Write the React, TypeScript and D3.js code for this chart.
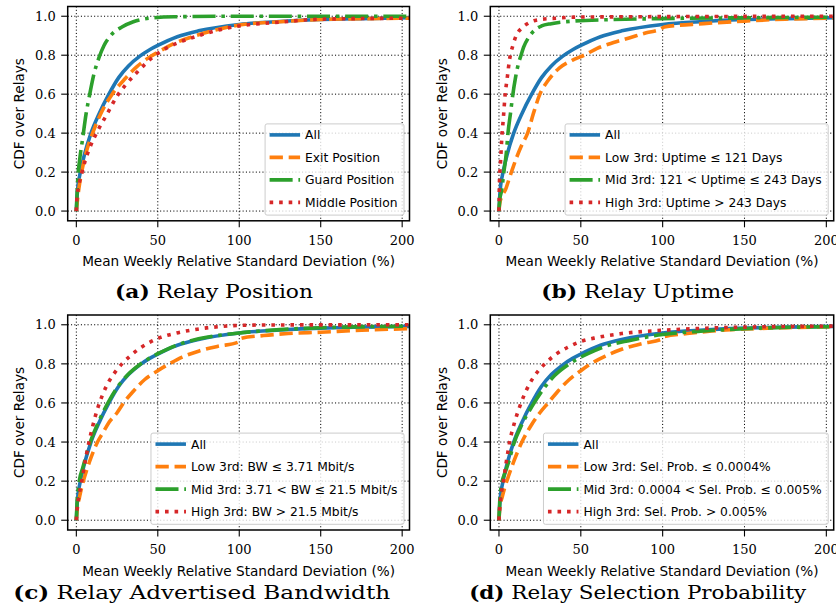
import React from 'react';
import * as d3 from 'd3';

// ---------- axis / text data ----------
const X_TICKS = [0, 50, 100, 150, 200];
const Y_TICKS = [0, 0.2, 0.4, 0.6, 0.8, 1.0];
const X_DOMAIN: [number, number] = [-5.3, 204.5];
const Y_DOMAIN: [number, number] = [-0.05, 1.05];
const X_LABEL = 'Mean Weekly Relative Standard Deviation (%)';
const Y_LABEL = 'CDF over Relays';

const CAPTION_TAGS = ['(a)', '(b)', '(c)', '(d)'];
const CAPTION_TEXTS = ['Relay Position', 'Relay Uptime', 'Relay Advertised Bandwidth', 'Relay Selection Probability'];

const LEGEND_A = ['All', 'Exit Position', 'Guard Position', 'Middle Position'];
const LEGEND_B = ['All', 'Low 3rd: Uptime \u2264 121 Days', 'Mid 3rd: 121 < Uptime \u2264 243 Days', 'High 3rd: Uptime > 243 Days'];
const LEGEND_C = ['All', 'Low 3rd: BW \u2264 3.71 Mbit/s', 'Mid 3rd: 3.71 < BW \u2264 21.5 Mbit/s', 'High 3rd: BW > 21.5 Mbit/s'];
const LEGEND_D = ['All', 'Low 3rd: Sel. Prob. \u2264 0.0004%', 'Mid 3rd: 0.0004 < Sel. Prob. \u2264 0.005%', 'High 3rd: Sel. Prob. > 0.005%'];

// ---------- series data (CDF points: x = RSD %, y = CDF) ----------
const allX = [0, 0.5, 1, 2, 3, 5, 9, 14, 20, 26, 32, 39, 45, 50, 62, 75, 100, 125, 150, 175, 205];
const allY = [0, 0.08, 0.13, 0.18, 0.22, 0.29, 0.4, 0.5, 0.6, 0.685, 0.745, 0.795, 0.828, 0.85, 0.895, 0.925, 0.958, 0.973, 0.983, 0.988, 0.992];

const exitX = [0, 1, 2, 4, 6, 10, 15, 22, 30, 37, 44, 50, 60, 75, 100, 125, 150, 205];
const exitY = [0, 0.08, 0.14, 0.23, 0.3, 0.4, 0.5, 0.6, 0.68, 0.74, 0.785, 0.815, 0.86, 0.905, 0.955, 0.972, 0.983, 0.99];

const guardX = [0, 0.3, 1, 2, 4, 6, 8, 11, 14, 17, 21, 28, 35, 45, 60, 100, 205];
const guardY = [0, 0.06, 0.18, 0.26, 0.38, 0.5, 0.59, 0.71, 0.79, 0.85, 0.9, 0.945, 0.972, 0.99, 0.997, 1.0, 1.0];

const middleX = [0, 0.3, 1.5, 3.5, 5.5, 8, 13, 19, 25, 30, 37, 47, 55, 65, 75, 85, 100, 125, 150, 205];
const middleY = [0, 0.06, 0.13, 0.2, 0.26, 0.32, 0.41, 0.5, 0.59, 0.645, 0.71, 0.79, 0.835, 0.872, 0.9, 0.925, 0.95, 0.97, 0.985, 0.99];

const lowUpX = [0, 0.5, 2, 4, 6, 8, 11, 14, 17.5, 21, 25, 30, 37, 45, 52, 60, 70, 80, 90, 99, 101, 125, 150, 175, 205];
const lowUpY = [0, 0.04, 0.08, 0.11, 0.16, 0.21, 0.28, 0.34, 0.4, 0.5, 0.6, 0.67, 0.735, 0.775, 0.8, 0.835, 0.865, 0.89, 0.915, 0.935, 0.945, 0.962, 0.975, 0.985, 0.99];

const midUpX = [0, 0.5, 1.5, 3, 4.5, 5.5, 7, 8.5, 10, 12, 13.5, 15, 18, 22, 26, 32, 45, 70, 100, 150, 205];
const midUpY = [0, 0.06, 0.1, 0.2, 0.3, 0.4, 0.5, 0.6, 0.68, 0.76, 0.8, 0.84, 0.89, 0.93, 0.95, 0.962, 0.975, 0.983, 0.988, 0.992, 0.995];

const highUpX = [0, 0.2, 1, 1.7, 2.7, 3.8, 5, 6.5, 8.5, 10.5, 14, 18, 24, 35, 50, 205];
const highUpY = [0, 0.12, 0.26, 0.37, 0.48, 0.6, 0.68, 0.78, 0.85, 0.9, 0.94, 0.965, 0.982, 0.99, 0.996, 1.0];

const lowBwX = [0, 0.5, 2, 4.3, 6.5, 9, 13, 16.5, 20, 25, 29, 35, 42, 49, 57, 65, 75, 87, 99, 101, 115, 130, 150, 175, 205];
const lowBwY = [0, 0.05, 0.12, 0.2, 0.26, 0.32, 0.4, 0.45, 0.5, 0.55, 0.6, 0.66, 0.72, 0.76, 0.8, 0.835, 0.865, 0.89, 0.91, 0.93, 0.945, 0.955, 0.962, 0.972, 0.98];

const midBwX = [0, 0.5, 1, 2, 4, 6, 9, 14, 20, 26, 32, 39, 45, 50, 62, 75, 100, 125, 150, 205];
const midBwY = [0, 0.1, 0.15, 0.21, 0.27, 0.33, 0.41, 0.51, 0.61, 0.69, 0.748, 0.797, 0.83, 0.852, 0.897, 0.928, 0.958, 0.975, 0.985, 0.993];

const highBwX = [0, 0.5, 1.5, 3.3, 5, 7.5, 10, 13, 16, 20, 24, 28, 33, 39, 45, 50, 60, 70, 80, 90, 100, 120, 205];
const highBwY = [0, 0.06, 0.12, 0.2, 0.28, 0.39, 0.48, 0.57, 0.64, 0.71, 0.76, 0.8, 0.84, 0.88, 0.91, 0.93, 0.955, 0.972, 0.984, 0.992, 0.997, 0.999, 1.0];

const lowSelX = [0, 0.5, 2, 4, 6, 9, 14, 20, 25, 30, 36, 43, 50, 56, 65, 75, 88, 99, 101, 115, 130, 150, 175, 205];
const lowSelY = [0, 0.06, 0.12, 0.18, 0.23, 0.3, 0.4, 0.49, 0.55, 0.6, 0.66, 0.72, 0.765, 0.8, 0.84, 0.875, 0.905, 0.925, 0.94, 0.955, 0.968, 0.978, 0.985, 0.99];

const midSelX = [0, 0.5, 1, 2, 4, 6, 9, 14, 20, 27, 34, 43, 55, 65, 80, 100, 125, 150, 205];
const midSelY = [0, 0.1, 0.15, 0.2, 0.25, 0.3, 0.39, 0.49, 0.58, 0.67, 0.74, 0.8, 0.855, 0.89, 0.92, 0.95, 0.968, 0.98, 0.99];

const highSelX = [0, 0.3, 1, 2.7, 4.5, 6.5, 9.5, 13.5, 17, 21, 28, 35, 42, 50, 60, 75, 100, 125, 150, 205];
const highSelY = [0, 0.05, 0.11, 0.2, 0.3, 0.4, 0.5, 0.6, 0.67, 0.73, 0.8, 0.85, 0.885, 0.915, 0.935, 0.955, 0.972, 0.982, 0.988, 0.993];

// ---------- styles ----------
const LW = 3.6;
const STYLES = [
  { color: '#1f77b4', dash: null as number[] | null },
  { color: '#ff7f0e', dash: [3.7, 1.6] },
  { color: '#2ca02c', dash: [6.4, 1.6, 1, 1.6] },
  { color: '#d62728', dash: [1, 1.65] },
];

const SANS = '"DejaVu Sans", sans-serif';
const SERIF = '"DejaVu Serif", serif';
const LABEL_SIZE = 13.6;
const LEGEND_SIZE = 12.3;
const TICK_SIZE = 13;
const CAPTION_SIZE = 18;

const LAYOUT = [
  { left: 67.7, top: 6.5, right: 409.5, bottom: 220.8, capX: 214, capY: 297.5, capW: 198 },
  { left: 490.3, top: 6.5, right: 833.7, bottom: 220.8, capX: 637.7, capY: 297.5, capW: 193 },
  { left: 67.7, top: 315, right: 409.5, bottom: 530, capX: 201.7, capY: 598.5, capW: 377 },
  { left: 490.3, top: 315, right: 833.7, bottom: 530, capX: 637.7, capY: 598.5, capW: 337 },
];

const PANELS = [
  { legend: LEGEND_A, series: [[allX, allY], [exitX, exitY], [guardX, guardY], [middleX, middleY]] },
  { legend: LEGEND_B, series: [[allX, allY], [lowUpX, lowUpY], [midUpX, midUpY], [highUpX, highUpY]] },
  { legend: LEGEND_C, series: [[allX, allY], [lowBwX, lowBwY], [midBwX, midBwY], [highBwX, highBwY]] },
  { legend: LEGEND_D, series: [[allX, allY], [lowSelX, lowSelY], [midSelX, midSelY], [highSelX, highSelY]] },
];

let measureCtx: CanvasRenderingContext2D | null = null;
function measure(text: string, size: number, family: string) {
  if (!measureCtx) {
    const c = document.createElement('canvas');
    measureCtx = c.getContext('2d');
  }
  if (!measureCtx) return text.length * size * 0.6;
  measureCtx.font = `${size}px ${family}`;
  return measureCtx.measureText(text).width;
}

function Panel({ idx }: { idx: number }) {
  const L = LAYOUT[idx];
  const P = PANELS[idx];
  const x = d3.scaleLinear().domain(X_DOMAIN).range([L.left, L.right]);
  const y = d3.scaleLinear().domain(Y_DOMAIN).range([L.bottom, L.top]);
  const line = d3
    .line<[number, number]>()
    .x((d) => x(d[0]))
    .y((d) => y(d[1]))
    .curve(d3.curveMonotoneX);
  const clipId = `clip-${idx}`;

  const textW = d3.max(P.legend, (t) => measure(t, LEGEND_SIZE, SANS)) || 0;
  const legW = 40 + textW + 6.5;
  const rowH = 22.5;
  const legH = 11 + 3 * rowH + 12.7;
  const legX = L.right - 5.5 - legW;
  const legY = L.bottom - 5.7 - legH;
  const cx = (L.left + L.right) / 2;
  const cy = (L.top + L.bottom) / 2;

  return (
    <g>
      <defs>
        <clipPath id={clipId}>
          <rect x={L.left} y={L.top} width={L.right - L.left} height={L.bottom - L.top} />
        </clipPath>
      </defs>
      {/* grid */}
      <g stroke="#000" strokeWidth={1} strokeDasharray="1.1,2.2">
        {X_TICKS.map((t) => (
          <line key={'gx' + t} x1={x(t)} x2={x(t)} y1={L.top} y2={L.bottom} />
        ))}
        {Y_TICKS.map((t) => (
          <line key={'gy' + t} x1={L.left} x2={L.right} y1={y(t)} y2={y(t)} />
        ))}
      </g>
      {/* lines */}
      <g clipPath={`url(#${clipId})`}>
        {P.series.map((s, i) => {
          const pts = (s[0] as number[]).map((v, j) => [v, (s[1] as number[])[j]] as [number, number]);
          const st = STYLES[i];
          return (
            <path
              key={i}
              d={line(pts) || ''}
              fill="none"
              stroke={st.color}
              strokeWidth={LW}
              strokeLinecap="butt"
              strokeLinejoin="round"
              strokeDasharray={st.dash ? st.dash.map((v) => v * LW).join(',') : undefined}
            />
          );
        })}
      </g>
      {/* spines */}
      <rect x={L.left} y={L.top} width={L.right - L.left} height={L.bottom - L.top} fill="none" stroke="#000" strokeWidth={1.5} />
      {/* ticks */}
      <g stroke="#000" strokeWidth={1.1}>
        {X_TICKS.map((t) => (
          <line key={'tx' + t} x1={x(t)} x2={x(t)} y1={L.bottom} y2={L.bottom + 6.5} />
        ))}
        {Y_TICKS.map((t) => (
          <line key={'ty' + t} x1={L.left - 6.5} x2={L.left} y1={y(t)} y2={y(t)} />
        ))}
      </g>
      <g fontFamily={SERIF} fontSize={TICK_SIZE} fill="#000">
        {X_TICKS.map((t) => (
          <text key={'lx' + t} x={x(t)} y={L.bottom + 24} textAnchor="middle">
            {d3.format('d')(t)}
          </text>
        ))}
        {Y_TICKS.map((t) => (
          <text key={'ly' + t} x={L.left - 12} y={y(t)} dy="0.36em" textAnchor="end">
            {d3.format('.1f')(t)}
          </text>
        ))}
      </g>
      {/* axis labels */}
      <text x={cx} y={L.bottom + 45.5} textAnchor="middle" fontFamily={SANS} fontSize={LABEL_SIZE} fill="#000">
        {X_LABEL}
      </text>
      <text
        x={L.left - 48.5}
        y={cy}
        transform={`rotate(-90, ${L.left - 48.5}, ${cy})`}
        textAnchor="middle"
        dominantBaseline="central"
        fontFamily={SANS}
        fontSize={LABEL_SIZE}
        fill="#000"
      >
        {Y_LABEL}
      </text>
      {/* legend */}
      <g>
        <rect x={legX} y={legY} width={legW} height={legH} rx={2} ry={2} fill="#fff" fillOpacity={0.8} stroke="#cccccc" strokeWidth={1} />
        {P.legend.map((lab, i) => {
          const ry = legY + 11 + i * rowH;
          const st = STYLES[i];
          return (
            <g key={'lg' + i}>
              <line
                x1={legX + 4.5}
                x2={legX + 35}
                y1={ry}
                y2={ry}
                stroke={st.color}
                strokeWidth={LW}
                strokeLinecap="butt"
                strokeDasharray={st.dash ? st.dash.map((v) => v * LW).join(',') : undefined}
              />
              <text x={legX + 40} y={ry} dy="0.36em" fontFamily={SANS} fontSize={LEGEND_SIZE} fill="#000">
                {lab}
              </text>
            </g>
          );
        })}
      </g>
      {/* caption */}
      <text
        x={L.capX}
        y={L.capY}
        textAnchor="middle"
        fontFamily={SERIF}
        fontSize={CAPTION_SIZE}
        fill="#000"
        textLength={L.capW}
        lengthAdjust="spacingAndGlyphs"
      >
        <tspan fontWeight="bold">{CAPTION_TAGS[idx]}</tspan>
        <tspan> {CAPTION_TEXTS[idx]}</tspan>
      </text>
    </g>
  );
}

export default function App() {
  return (
    <svg
      width={836}
      height={614}
      viewBox="0 0 836 614"
      style={{ position: 'absolute', left: 0, top: 0, background: '#fff' }}
    >
      <rect x={0} y={0} width={836} height={614} fill="#fff" />
      {[0, 1, 2, 3].map((i) => (
        <Panel key={i} idx={i} />
      ))}
    </svg>
  );
}
